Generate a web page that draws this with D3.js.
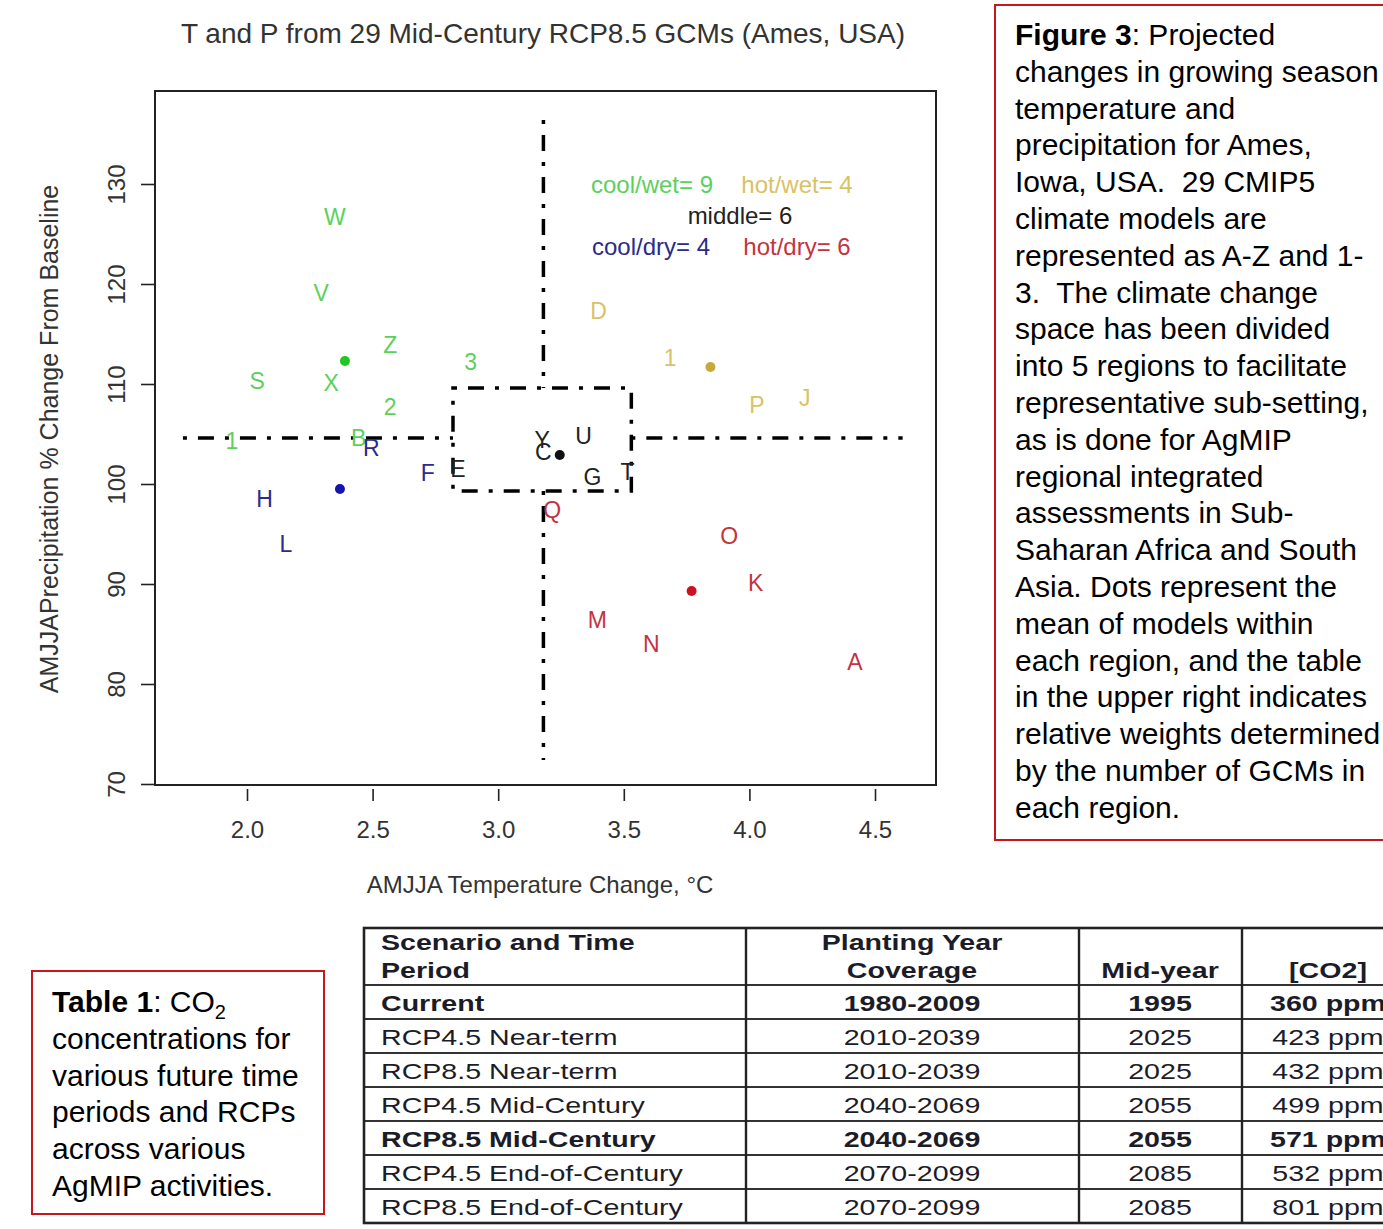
<!DOCTYPE html>
<html>
<head>
<meta charset="utf-8">
<script src="https://cdn.jsdelivr.net/npm/d3@7"></script>
<style>
	body { margin: 0; background: #fff; }
	svg { display: block; font-family: Arial, "Liberation Sans", sans-serif; }
	.pre { white-space: pre; }
</style>
</head>
<body>
<svg id="fig" width="1383" height="1229"></svg>
<script>
// ---- scatter data: GCM label, AMJJA temperature change (degC), AMJJA precip (% of baseline), region
let gcmLabel	= ['W', 'V', 'Z', 'S', 'X', '2', '3', '1', 'B',
				   'R', 'H', 'L', 'F',
				   'E', 'Y', 'C', 'U', 'G', 'T',
				   'D', '1', 'P', 'J',
				   'Q', 'O', 'K', 'M', 'N', 'A'];
let tempChange	= [2.35, 2.295, 2.57, 2.04, 2.335, 2.57, 2.89, 1.94, 2.445,
				   2.495, 2.07, 2.155, 2.72,
				   2.84, 3.175, 3.18, 3.34, 3.375, 3.515,
				   3.40, 3.685, 4.03, 4.22,
				   3.215, 3.92, 4.025, 3.395, 3.61, 4.42];
let precipChange = [126.7, 119.1, 113.9, 110.3, 110.1, 107.7, 112.2, 104.3, 104.6,
				   103.6, 98.5, 94.0, 101.1,
				   101.5, 104.4, 103.2, 104.8, 100.7, 101.2,
				   117.3, 112.6, 107.9, 108.6,
				   97.4, 94.8, 90.1, 86.4, 84.0, 82.2];
let gcmRegion	= ['cool/wet', 'cool/wet', 'cool/wet', 'cool/wet', 'cool/wet', 'cool/wet', 'cool/wet', 'cool/wet', 'cool/wet',
				   'cool/dry', 'cool/dry', 'cool/dry', 'cool/dry',
				   'middle', 'middle', 'middle', 'middle', 'middle', 'middle',
				   'hot/wet', 'hot/wet', 'hot/wet', 'hot/wet',
				   'hot/dry', 'hot/dry', 'hot/dry', 'hot/dry', 'hot/dry', 'hot/dry'];

// region means (dots) and counts (legend)
let regionNames	= ['cool/wet', 'hot/wet', 'middle', 'cool/dry', 'hot/dry'];
let regionCount	= [9, 4, 6, 4, 6];
let regionMeanT	= [2.39, 3.845, 3.245, 2.37, 3.77];
let regionMeanP	= [112.3, 111.7, 102.9, 99.5, 89.3];

// dividing lines and middle box
let splitT		= 3.18;
let splitP		= 104.6;
let boxT		= [2.82, 3.53];
let boxP		= [99.3, 109.6];
let lineT		= [1.745, 4.61];
let lineP		= [72.4, 136.4];

let xTicks		= [2.0, 2.5, 3.0, 3.5, 4.0, 4.5];
let yTicks		= [70, 80, 90, 100, 110, 120, 130];

// ---- table 1 data
let scenario	= ['Current', 'RCP4.5 Near-term', 'RCP8.5 Near-term', 'RCP4.5 Mid-Century',
				   'RCP8.5 Mid-Century', 'RCP4.5 End-of-Century', 'RCP8.5 End-of-Century'];
let coverage	= ['1980-2009', '2010-2039', '2010-2039', '2040-2069', '2040-2069', '2070-2099', '2070-2099'];
let midYear		= ['1995', '2025', '2025', '2055', '2055', '2085', '2085'];
let co2			= ['360 ppm', '423 ppm', '432 ppm', '499 ppm', '571 ppm', '532 ppm', '801 ppm'];
let boldRow		= [true, false, false, false, true, false, false];

let captionLines = ['changes in growing season', 'temperature and', 'precipitation for Ames,',
	'Iowa, USA.  29 CMIP5', 'climate models are', 'represented as A-Z and 1-', '3.  The climate change',
	'space has been divided', 'into 5 regions to facilitate', 'representative sub-setting,',
	'as is done for AgMIP', 'regional integrated', 'assessments in Sub-', 'Saharan Africa and South',
	'Asia. Dots represent the', 'mean of models within', 'each region, and the table',
	'in the upper right indicates', 'relative weights determined', 'by the number of GCMs in', 'each region.'];
let tableNoteLines = ['concentrations for', 'various future time', 'periods and RCPs', 'across various', 'AgMIP activities.'];

// ---- styles
let textColor	= { 'cool/wet': '#5cd05c', 'hot/wet': '#d8c266', 'middle': '#222', 'cool/dry': '#2b2b8a', 'hot/dry': '#c4343f' };
let dotColor	= { 'cool/wet': '#1fc81f', 'hot/wet': '#c9a83a', 'middle': '#111', 'cool/dry': '#1414b0', 'hot/dry': '#cc1122' };
let legendPos	= { 'cool/wet': [652, 184], 'hot/wet': [797, 184], 'middle': [740, 215], 'cool/dry': [651, 246], 'hot/dry': [797, 246] };
let dotdash		= '4 11 16 11';

let svg = d3.select('#fig');

let frame		= { left: 155, top: 91, right: 936, bottom: 785 };
let x			= d3.scaleLinear().domain([2.0, 4.5]).range([247, 875]);
let y			= d3.scaleLinear().domain([70, 130]).range([784, 184]);

// title
svg.append('text')
	.attr('x', 543).attr('y', 43)
	.attr('text-anchor', 'middle')
	.attr('font-size', 28).attr('fill', '#333')
	.text('T and P from 29 Mid-Century RCP8.5 GCMs (Ames, USA)');

// frame
svg.append('rect')
	.attr('x', frame.left).attr('y', frame.top)
	.attr('width', frame.right - frame.left).attr('height', frame.bottom - frame.top)
	.attr('fill', 'none').attr('stroke', '#222').attr('stroke-width', 2);

// axes
let gx = svg.append('g')
	.attr('transform', 'translate(0,789)')
	.call(d3.axisBottom(x).tickValues(xTicks).tickFormat(d3.format('.1f')).tickSize(12).tickPadding(20));
gx.select('.domain').remove();

let gy = svg.append('g')
	.attr('transform', 'translate(' + frame.left + ',0)')
	.call(d3.axisLeft(y).tickValues(yTicks).tickSize(14));
gy.select('.domain').remove();
gy.selectAll('text')
	.attr('x', null).attr('dy', '0.35em')
	.attr('text-anchor', 'middle')
	.attr('transform', 'translate(-38,0) rotate(-90)');

svg.selectAll('.tick line').attr('stroke', '#222').attr('stroke-width', 1.6);
svg.selectAll('.tick text').attr('font-size', 24).attr('fill', '#333').attr('font-family', 'Arial, "Liberation Sans", sans-serif');

svg.append('text')
	.attr('x', 540).attr('y', 893)
	.attr('text-anchor', 'middle')
	.attr('font-size', 24).attr('fill', '#333')
	.text('AMJJA Temperature Change, \u00B0C');

svg.append('text')
	.attr('transform', 'translate(58,439) rotate(-90)')
	.attr('text-anchor', 'middle')
	.attr('font-size', 25).attr('fill', '#333')
	.text('AMJJAPrecipitation % Change From Baseline');

// dividing lines (dot-dash) and middle box
let plot = svg.append('g')
	.attr('fill', 'none').attr('stroke', '#000')
	.attr('stroke-width', 3.5).attr('stroke-dasharray', dotdash);

plot.append('line').attr('x1', x(lineT[0])).attr('x2', x(boxT[0])).attr('y1', y(splitP)).attr('y2', y(splitP));
plot.append('line').attr('x1', x(boxT[1])).attr('x2', x(lineT[1])).attr('y1', y(splitP)).attr('y2', y(splitP));
plot.append('line').attr('x1', x(splitT)).attr('x2', x(splitT)).attr('y1', y(lineP[1])).attr('y2', y(boxP[1]));
plot.append('line').attr('x1', x(splitT)).attr('x2', x(splitT)).attr('y1', y(boxP[0])).attr('y2', y(lineP[0]));
plot.append('rect')
	.attr('x', x(boxT[0])).attr('y', y(boxP[1]))
	.attr('width', x(boxT[1]) - x(boxT[0])).attr('height', y(boxP[0]) - y(boxP[1]));

// GCM letters
let gcms = gcmLabel.map((o, i) => ({ label: o, t: tempChange[i], p: precipChange[i], region: gcmRegion[i] }));

svg.append('g').selectAll('text')
	.data(gcms)
	.enter().append('text')
		.attr('x', (o) => (x(o.t)))
		.attr('y', (o) => (y(o.p)))
		.attr('dy', '0.36em')
		.attr('text-anchor', 'middle')
		.attr('font-size', 23)
		.attr('fill', (o) => (textColor[o.region]))
		.text((o) => (o.label));

// region means
let means = regionNames.map((o, i) => ({ region: o, t: regionMeanT[i], p: regionMeanP[i], n: regionCount[i] }));

svg.append('g').selectAll('circle')
	.data(means)
	.enter().append('circle')
		.attr('cx', (o) => (x(o.t)))
		.attr('cy', (o) => (y(o.p)))
		.attr('r', 5)
		.attr('fill', (o) => (dotColor[o.region]));

// legend / weights table
svg.append('g').selectAll('text')
	.data(means)
	.enter().append('text')
		.attr('x', (o) => (legendPos[o.region][0]))
		.attr('y', (o) => (legendPos[o.region][1]))
		.attr('dy', '0.36em')
		.attr('text-anchor', 'middle')
		.attr('font-size', 24)
		.attr('fill', (o) => (textColor[o.region]))
		.text((o) => (o.region + '= ' + o.n));

// ---- figure caption box
svg.append('rect')
	.attr('x', 995).attr('y', 5).attr('width', 430).attr('height', 835)
	.attr('fill', 'none').attr('stroke', '#c8161d').attr('stroke-width', 2);

let cap = svg.append('text')
	.attr('class', 'pre')
	.attr('font-size', 30).attr('fill', '#000');
let first = cap.append('tspan').attr('x', 1015).attr('y', 45);
first.append('tspan').attr('font-weight', 'bold').text('Figure 3');
first.append('tspan').text(': Projected');
captionLines.forEach((o, i) => {
	cap.append('tspan').attr('x', 1015).attr('y', 45 + (i + 1) * 36.8).text(o);
});

// ---- table 1 note box
svg.append('rect')
	.attr('x', 32).attr('y', 971).attr('width', 292).attr('height', 243)
	.attr('fill', 'none').attr('stroke', '#c8161d').attr('stroke-width', 2);

let note = svg.append('text')
	.attr('font-size', 30).attr('fill', '#000');
let noteFirst = note.append('tspan').attr('x', 52).attr('y', 1012);
noteFirst.append('tspan').attr('font-weight', 'bold').text('Table 1');
noteFirst.append('tspan').text(': CO');
noteFirst.append('tspan').attr('font-size', 20).attr('dy', 7).text('2');
tableNoteLines.forEach((o, i) => {
	note.append('tspan').attr('x', 52).attr('y', 1012 + (i + 1) * 36.8).text(o);
});

// ---- table 1
let tbl			= { left: 364, top: 928, headBottom: 985, rowH: 34 };
let colEdges	= [364, 746, 1079, 1242, 1430];
let colCenter	= [381, 912, 1160, 1328];
let stretch		= 1.3;

let table = svg.append('g');
let rows = scenario.map((o, i) => ({ cells: [o, coverage[i], midYear[i], co2[i]], bold: boldRow[i] }));
let tableBottom = tbl.headBottom + rows.length * tbl.rowH;

function cellText(g, txt, cx, by, anchor, bold) {
	g.append('text')
		.attr('transform', 'translate(' + cx + ',' + by + ') scale(' + stretch + ',1)')
		.attr('text-anchor', anchor)
		.attr('font-size', 22)
		.attr('font-weight', bold ? 'bold' : 'normal')
		.attr('fill', '#1c1c28')
		.text(txt);
}

// header
cellText(table, 'Scenario and Time', colCenter[0], 950, 'start', true);
cellText(table, 'Period', colCenter[0], 978, 'start', true);
cellText(table, 'Planting Year', colCenter[1], 950, 'middle', true);
cellText(table, 'Coverage', colCenter[1], 978, 'middle', true);
cellText(table, 'Mid-year', colCenter[2], 978, 'middle', true);
cellText(table, '[CO2]', colCenter[3], 978, 'middle', true);

rows.forEach((r, i) => {
	let by = tbl.headBottom + i * tbl.rowH + 26;
	r.cells.forEach((c, j) => {
		cellText(table, c, colCenter[j], by, j === 0 ? 'start' : 'middle', r.bold);
	});
});

// grid lines
table.selectAll('.hline')
	.data(d3.range(rows.length + 1))
	.enter().append('line')
		.attr('x1', colEdges[0]).attr('x2', colEdges[colEdges.length - 1])
		.attr('y1', (o) => (tbl.headBottom + o * tbl.rowH))
		.attr('y2', (o) => (tbl.headBottom + o * tbl.rowH))
		.attr('stroke', '#333').attr('stroke-width', 2.2);

table.selectAll('.vline')
	.data(colEdges.slice(1, 4))
	.enter().append('line')
		.attr('x1', (o) => (o)).attr('x2', (o) => (o))
		.attr('y1', tbl.top).attr('y2', tableBottom)
		.attr('stroke', '#222').attr('stroke-width', 2.4);

table.append('rect')
	.attr('x', tbl.left).attr('y', tbl.top)
	.attr('width', colEdges[colEdges.length - 1] - tbl.left).attr('height', tableBottom - tbl.top)
	.attr('fill', 'none').attr('stroke', '#222').attr('stroke-width', 2.6);
</script>
</body>
</html>
